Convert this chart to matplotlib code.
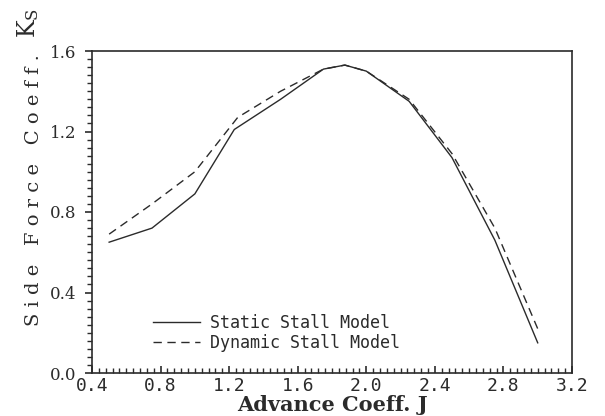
import numpy as np
import matplotlib
matplotlib.use("Agg")
import matplotlib.pyplot as plt
from matplotlib.ticker import MultipleLocator

# advance coefficient J and side force coefficient Ks
j_static = [0.5, 0.75, 1.0, 1.23, 1.5, 1.75, 1.875, 2.0, 2.25, 2.5, 2.75, 3.0]
ks_static = [0.65, 0.72, 0.89, 1.21, 1.36, 1.51, 1.53, 1.50, 1.35, 1.07, 0.66, 0.15]

j_dynamic = [0.5, 0.75, 1.0, 1.25, 1.5, 1.75, 1.875, 2.0, 2.25, 2.5, 2.75, 3.0]
ks_dynamic = [0.69, 0.84, 1.0, 1.27, 1.40, 1.51, 1.53, 1.50, 1.36, 1.09, 0.72, 0.22]

x_ticks = [0.4, 0.8, 1.2, 1.6, 2.0, 2.4, 2.8, 3.2]
y_ticks = [0.0, 0.4, 0.8, 1.2, 1.6]

ink = "#2b2b2b"

fig = plt.figure(figsize=(6.05, 4.16), dpi=100)
ax = fig.add_axes([92 / 605, 1 - 373 / 416, 480 / 605, 322 / 416])

ax.plot(j_static, ks_static, color=ink, lw=1.0, label="Static Stall Model")
ax.plot(j_dynamic, ks_dynamic, color=ink, lw=1.0, dashes=(6, 4),
        label="Dynamic Stall Model")

ax.set_xlim(0.4, 3.2)
ax.set_ylim(0.0, 1.6)
ax.set_xticks(x_ticks)
ax.set_yticks(y_ticks)
ax.xaxis.set_minor_locator(MultipleLocator(0.04))
ax.yaxis.set_minor_locator(MultipleLocator(0.04))

ax.set_xticklabels([f"{v:.1f}" for v in x_ticks], family="DejaVu Sans Mono",
                   fontsize=13, color=ink)
ax.set_yticklabels([f"{v:.1f}" for v in y_ticks], family="DejaVu Serif",
                   fontsize=12, color=ink)

ax.tick_params(axis="x", which="both", direction="in", top=False, color=ink, pad=3)
ax.tick_params(axis="x", which="major", length=5, width=1.2)
ax.tick_params(axis="x", which="minor", length=3.5, width=1.0)
ax.tick_params(axis="y", which="both", direction="out", right=False, color=ink, pad=6)
ax.tick_params(axis="y", which="major", length=5, width=1.2)
ax.tick_params(axis="y", which="minor", length=3.5, width=1.0)

for s in ax.spines.values():
    s.set_color(ink)
    s.set_linewidth(1.2)

ax.set_xlabel("Advance Coeff. J", family="DejaVu Serif", fontweight="bold",
              fontsize=15, color=ink, labelpad=0)

fig.text(34 / 605, 1 - 190 / 416, "S i d e   F o r c e   C o e f f .",
         rotation=90, ha="center", va="center", family="DejaVu Serif",
         fontsize=14, color=ink)
fig.text(28 / 605, 1 - 23 / 416, r"$\mathregular{K_S}$", rotation=90,
         ha="center", va="center", family="DejaVu Serif", fontsize=17, color=ink)

leg = ax.legend(loc="lower left", bbox_to_anchor=(0.11, 0.04), frameon=False,
                handlelength=2.8, handletextpad=0.6, labelspacing=0.1,
                borderpad=0, prop={"family": "DejaVu Sans Mono", "size": 12})
for t in leg.get_texts():
    t.set_color(ink)

fig.savefig("out.png", dpi=100, facecolor="white")
